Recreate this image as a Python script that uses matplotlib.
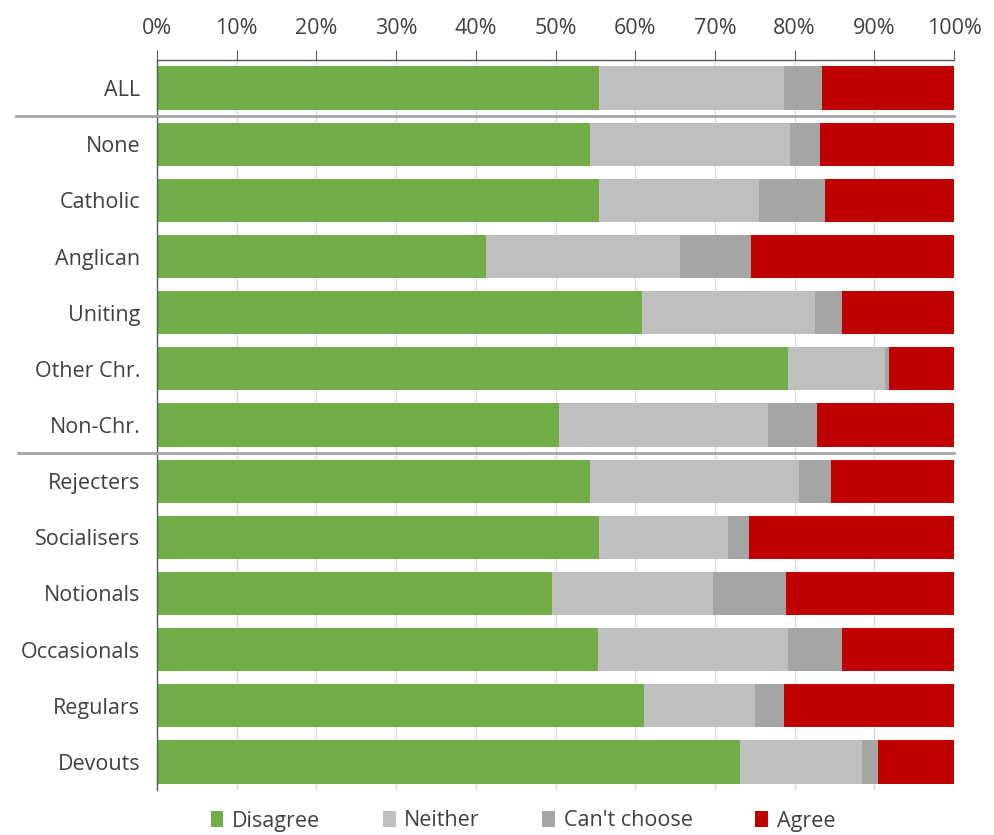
import matplotlib
matplotlib.use("Agg")
import matplotlib.pyplot as plt
import matplotlib.transforms as mtransforms
from matplotlib.patches import Patch
from matplotlib.ticker import FuncFormatter, MultipleLocator

plt.rcParams['font.family'] = ['Open Sans', 'DejaVu Sans']

categories = ["ALL", "None", "Catholic", "Anglican", "Uniting", "Other Chr.",
              "Non-Chr.", "Rejecters", "Socialisers", "Notionals",
              "Occasionals", "Regulars", "Devouts"]
disagree = [55.5, 54.3, 55.4, 41.3, 60.9, 79.2, 50.4, 54.3, 55.4, 49.6, 55.3, 61.1, 73.2]
neither = [23.2, 25.1, 20.1, 24.3, 21.7, 12.1, 26.2, 26.3, 16.2, 20.2, 23.9, 13.9, 15.3]
cant_choose = [4.8, 3.8, 8.3, 8.9, 3.4, 0.5, 6.2, 4.0, 2.7, 9.1, 6.7, 3.7, 2.0]
agree = [16.5, 16.8, 16.2, 25.5, 14.0, 8.2, 17.2, 15.4, 25.7, 21.1, 14.1, 21.3, 9.5]

series = [("Disagree", disagree, "#70ad47"),
          ("Neither", neither, "#bfbfbf"),
          ("Can't choose", cant_choose, "#a5a5a5"),
          ("Agree", agree, "#c00000")]

text_color = "#404040"
fsize = 15.5

fig = plt.figure(figsize=(9.94, 8.35), dpi=100)
ax = fig.add_axes([157 / 994, 1 - 790 / 835, (954 - 157) / 994, (790 - 60) / 835])

ypos = list(range(len(categories)))
left = [0.0] * len(categories)
for name, vals, color in series:
    ax.barh(ypos, vals, left=left, height=0.77, color=color, label=name, zorder=2)
    left = [l + v for l, v in zip(left, vals)]

ax.set_xlim(0, 100)
ax.set_ylim(len(categories) - 0.5, -0.5)
ax.set_yticks(ypos)
ax.set_yticklabels(categories)
ax.xaxis.set_major_locator(MultipleLocator(10))
ax.xaxis.set_major_formatter(FuncFormatter(lambda v, p: f"{v:.0f}%"))
ax.xaxis.tick_top()
ax.grid(axis="x", color="#d9d9d9", linewidth=1, zorder=0)
ax.set_axisbelow(True)

for side in ("right", "bottom"):
    ax.spines[side].set_visible(False)
ax.spines["top"].set_color("#595959")
ax.spines["left"].set_color("#595959")
ax.spines["top"].set_linewidth(1)
ax.spines["left"].set_linewidth(1)

ax.tick_params(axis="x", which="major", length=7, color="#595959",
               labelsize=fsize, labelcolor=text_color, pad=8)
ax.tick_params(axis="y", length=0, labelsize=fsize, labelcolor=text_color, pad=12)

# group separators reaching into the label column
trans = mtransforms.blended_transform_factory(fig.transFigure, ax.transData)
for y, x0 in ((0.5, 16 / 994), (6.5, 18 / 994)):
    ax.plot([x0, 954 / 994], [y, y], transform=trans, color="#a6a6a6",
            linewidth=2, clip_on=False, zorder=3)

handles = [Patch(facecolor=c, edgecolor="none", label=n) for n, _, c in series]
fig.legend(handles=handles, loc="center", bbox_to_anchor=(0.526, 1 - 821 / 835),
           ncol=4, frameon=False, fontsize=fsize, handlelength=0.6, handleheight=0.8,
           handletextpad=0.4, columnspacing=2.9, labelcolor=text_color)

fig.savefig("out.png", dpi=100)
